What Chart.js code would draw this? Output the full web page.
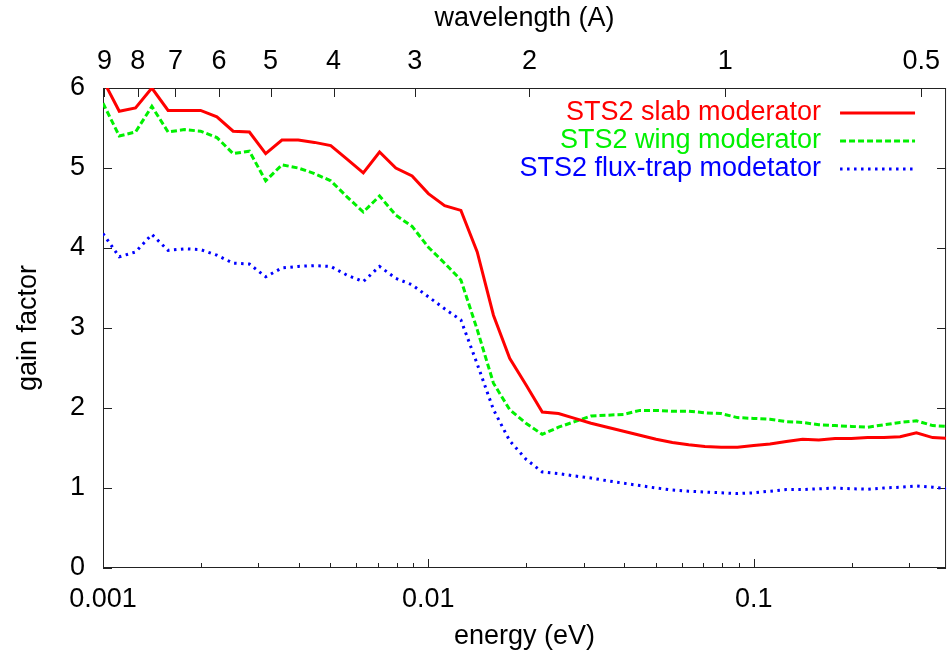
<!DOCTYPE html>
<html>
<head>
<meta charset="utf-8">
<script src="https://cdn.jsdelivr.net/npm/chart.js@4.4.0/dist/chart.umd.min.js"></script>
<style>
  html, body { margin: 0; padding: 0; background: #fff; }
  #wrap { width: 950px; height: 656px; }
</style>
</head>
<body>
<div id="wrap"><canvas id="gainChart"></canvas></div>
<script>
// energy grid (eV), 20 points per decade
const energy = [
  0.001, 0.001122, 0.001259, 0.001413, 0.001585, 0.001778, 0.001995, 0.002239, 0.002512, 0.002818,
  0.003162, 0.003548, 0.003981, 0.004467, 0.005012, 0.005623, 0.00631, 0.007079, 0.007943, 0.008913,
  0.01, 0.01122, 0.01259, 0.01413, 0.01585, 0.01778, 0.01995, 0.02239, 0.02512, 0.02818,
  0.03162, 0.03548, 0.03981, 0.04467, 0.05012, 0.05623, 0.0631, 0.07079, 0.07943, 0.08913,
  0.1, 0.1122, 0.1259, 0.1413, 0.1585, 0.1778, 0.1995, 0.2239, 0.2512, 0.2818,
  0.3162, 0.3548, 0.3981
];

const slab = [
  6.10, 5.71, 5.75, 6.00, 5.72, 5.72, 5.72, 5.64, 5.46, 5.45,
  5.18, 5.35, 5.35, 5.32, 5.28, 5.11, 4.94, 5.20, 5.00, 4.90,
  4.68, 4.53, 4.47, 3.95, 3.16, 2.62, 2.29, 1.95, 1.93, 1.87,
  1.81, 1.76, 1.71, 1.66, 1.61, 1.57, 1.54, 1.52, 1.51, 1.51,
  1.53, 1.55, 1.58, 1.61, 1.60, 1.62, 1.62, 1.63, 1.63, 1.64,
  1.69, 1.63, 1.62
];

const wing = [
  5.81, 5.40, 5.45, 5.77, 5.45, 5.48, 5.46, 5.38, 5.18, 5.21,
  4.84, 5.04, 5.00, 4.93, 4.84, 4.64, 4.45, 4.65, 4.41, 4.27,
  4.01, 3.81, 3.60, 2.98, 2.31, 1.98, 1.81, 1.67, 1.76, 1.83,
  1.90, 1.91, 1.92, 1.97, 1.97, 1.96, 1.96, 1.94, 1.93, 1.88,
  1.87, 1.86, 1.83, 1.82, 1.79, 1.78, 1.77, 1.76, 1.79, 1.82,
  1.84, 1.78, 1.77
];

const fluxTrap = [
  4.18, 3.89, 3.95, 4.17, 3.97, 3.99, 3.98, 3.91, 3.81, 3.80,
  3.64, 3.75, 3.77, 3.78, 3.77, 3.66, 3.58, 3.77, 3.62, 3.54,
  3.39, 3.24, 3.10, 2.55, 1.98, 1.59, 1.36, 1.20, 1.18, 1.15,
  1.125, 1.09, 1.06, 1.03, 1.00, 0.975, 0.96, 0.95, 0.94, 0.93,
  0.94, 0.96, 0.98, 0.98, 0.99, 1.00, 0.99, 0.985, 1.00, 1.01,
  1.025, 1.01, 0.99
];

const energyTicks = [
  0.001, 0.002, 0.003, 0.004, 0.005, 0.006, 0.007, 0.008, 0.009,
  0.01, 0.02, 0.03, 0.04, 0.05, 0.06, 0.07, 0.08, 0.09,
  0.1, 0.2, 0.3
];
const energyLabels = [0.001, 0.01, 0.1];
const wavelengthTicks = [9, 8, 7, 6, 5, 4, 3, 2, 1, 0.5];

const FONT = { family: '"Liberation Sans", Arial, sans-serif', size: 27 };

function toPoints(values) {
  return energy.map((e, i) => ({ x: e, y: values[i] }));
}

// gnuplot-like frame with inward tick marks
const frameTicks = {
  id: 'frameTicks',
  beforeDatasetsDraw(chart) {
    const { ctx, chartArea: a, scales } = chart;
    ctx.save();
    ctx.strokeStyle = '#222';
    ctx.lineWidth = 1;
    ctx.beginPath();
    scales.x.ticks.forEach(t => {
      const px = Math.round(scales.x.getPixelForValue(t.value)) + 0.5;
      const len = energyLabels.includes(t.value) ? 9 : 5;
      ctx.moveTo(px, a.bottom);
      ctx.lineTo(px, a.bottom - len);
    });
    scales.xTop.ticks.forEach(t => {
      const px = Math.round(scales.xTop.getPixelForValue(t.value)) + 0.5;
      ctx.moveTo(px, a.top);
      ctx.lineTo(px, a.top + 9);
    });
    scales.y.ticks.forEach(t => {
      const py = Math.round(scales.y.getPixelForValue(t.value)) + 0.5;
      ctx.moveTo(a.left, py);
      ctx.lineTo(a.left + 9, py);
      ctx.moveTo(a.right, py);
      ctx.lineTo(a.right - 9, py);
    });
    ctx.stroke();
    ctx.strokeRect(a.left + 0.5, a.top + 0.5, a.right - a.left - 1, a.bottom - a.top - 1);
    ctx.restore();
  }
};

// legend: right-aligned text followed by a line sample
const sideLegend = {
  id: 'sideLegend',
  afterDraw(chart) {
    const { ctx, chartArea: a } = chart;
    ctx.save();
    ctx.font = FONT.size + 'px ' + FONT.family;
    ctx.textAlign = 'right';
    ctx.textBaseline = 'middle';
    chart.data.datasets.forEach((ds, i) => {
      const y = a.top + 25 + i * 28;
      ctx.fillStyle = ds.borderColor;
      ctx.fillText(ds.label, a.right - 125, y);
      ctx.strokeStyle = ds.borderColor;
      ctx.lineWidth = ds.borderWidth;
      ctx.setLineDash(ds.borderDash || []);
      ctx.beginPath();
      ctx.moveTo(a.right - 106, y);
      ctx.lineTo(a.right - 31, y);
      ctx.stroke();
    });
    ctx.restore();
  }
};

new Chart(document.getElementById('gainChart'), {
  type: 'line',
  data: {
    datasets: [
      { label: 'STS2 slab moderator', data: toPoints(slab), borderColor: '#ff0000',
        borderWidth: 3, pointRadius: 0, clip: 0 },
      { label: 'STS2 wing moderator', data: toPoints(wing), borderColor: '#00f000',
        borderWidth: 3, borderDash: [6, 3], pointRadius: 0, clip: 0 },
      { label: 'STS2 flux-trap modetator', data: toPoints(fluxTrap), borderColor: '#0000ff',
        borderWidth: 3, borderDash: [2.5, 4.5], pointRadius: 0, clip: 0 }
    ]
  },
  options: {
    animation: false,
    responsive: true,
    maintainAspectRatio: false,
    layout: { padding: { left: 0, right: 0, top: 0, bottom: 0 } },
    plugins: { legend: { display: false }, tooltip: { enabled: false } },
    scales: {
      x: {
        type: 'logarithmic', position: 'bottom', min: 0.001, max: 0.39,
        afterBuildTicks: s => { s.ticks = energyTicks.map(v => ({ value: v })); },
        afterFit: s => { s.height = 88; },
        grid: { display: false, drawTicks: false },
        border: { display: false },
        ticks: { autoSkip: false, maxRotation: 0, padding: 15, color: '#000', font: FONT,
          callback: v => energyLabels.includes(v) ? String(v) : '' },
        title: { display: true, text: 'energy (eV)', color: '#000', font: FONT, padding: { top: 0, bottom: 3 } }
      },
      xTop: {
        type: 'logarithmic', position: 'top', min: 0.001, max: 0.39,
        afterBuildTicks: s => { s.ticks = wavelengthTicks.map(l => ({ value: 0.0818 / (l * l) })); },
        afterFit: s => { s.height = 88; },
        grid: { display: false, drawTicks: false },
        border: { display: false },
        ticks: { autoSkip: false, maxRotation: 0, padding: 10, color: '#000', font: FONT,
          callback: (v, i) => String(wavelengthTicks[i]) },
        title: { display: true, text: 'wavelength (A)', color: '#000', font: FONT, padding: { top: 2, bottom: 0 } }
      },
      y: {
        type: 'linear', min: 0, max: 6,
        afterFit: s => { s.width = 103; },
        grid: { display: false, drawTicks: false },
        border: { display: false },
        ticks: { stepSize: 1, padding: 18, color: '#000', font: FONT },
        title: { display: true, text: 'gain factor', color: '#000', font: FONT, padding: { top: 12, bottom: 0 } }
      }
    }
  },
  plugins: [frameTicks, sideLegend]
});
</script>
</body>
</html>
